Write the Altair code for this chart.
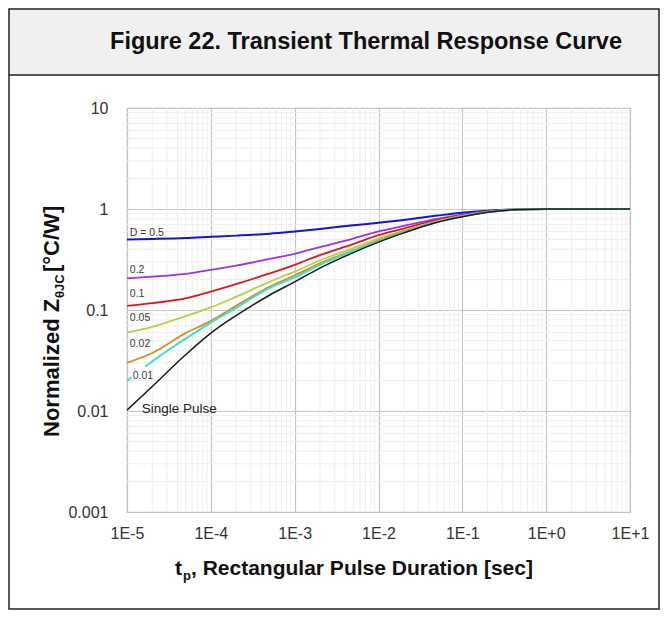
import altair as alt
import pandas as pd

# ---------------- data ----------------
T = [1e-5, 2e-5, 5e-5, 1e-4, 2e-4, 5e-4, 1e-3, 2e-3, 5e-3, 1e-2, 2e-2, 5e-2, 1e-1, 2e-1, 5e-1, 1.0, 10.0]

z_d05 = [0.50, 0.505, 0.515, 0.53, 0.545, 0.57, 0.60, 0.635, 0.69, 0.73, 0.78, 0.86, 0.92, 0.96, 0.995, 1.0, 1.0]
z_d02 = [0.206, 0.214, 0.228, 0.249, 0.275, 0.32, 0.36, 0.42, 0.51, 0.60, 0.68, 0.80, 0.88, 0.945, 0.99, 1.0, 1.0]
z_d01 = [0.11, 0.117, 0.13, 0.152, 0.18, 0.23, 0.28, 0.35, 0.45, 0.55, 0.64, 0.78, 0.865, 0.94, 0.99, 1.0, 1.0]
z_d005 = [0.0596, 0.068, 0.087, 0.106, 0.135, 0.19, 0.24, 0.31, 0.41, 0.51, 0.61, 0.76, 0.855, 0.935, 0.99, 1.0, 1.0]
z_d002 = [0.030, 0.0375, 0.059, 0.078, 0.11, 0.17, 0.22, 0.29, 0.39, 0.49, 0.60, 0.75, 0.85, 0.93, 0.99, 1.0, 1.0]
z_single = [0.0102, 0.0175, 0.036, 0.059, 0.088, 0.14, 0.19, 0.26, 0.37, 0.47, 0.58, 0.74, 0.84, 0.93, 0.99, 1.0, 1.0]

# D = 0.01 curve is interrupted by its label
t_d001_head = [1e-5, 1.13e-5]
z_d001_head = [0.020, 0.0215]
t_d001 = [1.64e-5, 2e-5, 5e-5, 1e-4, 2e-4, 5e-4, 1e-3, 2e-3, 5e-3, 1e-2, 2e-2, 5e-2, 1e-1, 2e-1, 5e-1, 1.0, 10.0]
z_d001 = [0.0275, 0.031, 0.052, 0.075, 0.105, 0.165, 0.21, 0.28, 0.385, 0.48, 0.59, 0.745, 0.845, 0.93, 0.99, 1.0, 1.0]

series_colors = {
    "D = 0.5": "#1414d6",
    "0.2": "#a030e8",
    "0.1": "#e01616",
    "0.05": "#b8d048",
    "0.02": "#dc8a20",
    "0.01": "#3fe0d0",
    "Single Pulse": "#1a1a1a",
}

label_text = ["D = 0.5", "0.2", "0.1", "0.05", "0.02", "0.01"]
label_t = [1.08e-5, 1.08e-5, 1.08e-5, 1.08e-5, 1.08e-5, 1.17e-5]
label_z = [0.54, 0.232, 0.135, 0.078, 0.043, 0.0207]
single_label_t = [1.5e-5]
single_label_z = [0.0095]

x_ticks = [1e-5, 1e-4, 1e-3, 1e-2, 1e-1, 1.0, 10.0]
x_tick_labels = ["1E-5", "1E-4", "1E-3", "1E-2", "1E-1", "1E+0", "1E+1"]
y_ticks = [0.001, 0.01, 0.1, 1.0, 10.0]
y_tick_labels = ["0.001", "0.01", "0.1", "1", "10"]

x_minor = [k * d for d in [1e-5, 1e-4, 1e-3, 1e-2, 1e-1, 1.0] for k in range(2, 10)]
y_minor = [k * d for d in [1e-3, 1e-2, 1e-1, 1.0] for k in range(2, 10)]

# ---------------- chart ----------------
W, H = 503, 404
FONT = "Liberation Sans"

def expr_map(vals, labels):
    v = "[" + ",".join(repr(float(a)) for a in vals) + "]"
    l = "[" + ",".join("'" + s + "'" for s in labels) + "]"
    return f"{l}[indexof({v}, datum.value)]"

xscale = alt.Scale(type="log", domain=[1e-5, 10])
yscale = alt.Scale(type="log", domain=[0.001, 10])

x_axis = alt.Axis(values=x_ticks, labelExpr=expr_map(x_ticks, x_tick_labels), grid=True,
                  gridColor="#c4c4c4", gridWidth=1.2, domain=False, ticks=False, tickSize=0,
                  labelPadding=13, labelFont=FONT, labelFontSize=16, labelColor="#333333",
                  title=None, labelFlush=False, labelOverlap=False)
y_axis = alt.Axis(values=y_ticks, labelExpr=expr_map(y_ticks, y_tick_labels), grid=True,
                  gridColor="#c4c4c4", gridWidth=1.2, domain=False, ticks=False, tickSize=0,
                  labelPadding=19, labelFont=FONT, labelFontSize=16, labelColor="#333333",
                  title=None, labelFlush=False, labelOverlap=False)

X = alt.X("t:Q", scale=xscale, axis=x_axis)
Y = alt.Y("z:Q", scale=yscale, axis=y_axis)

dummy = pd.DataFrame({"a": [0]})

# decorations: title band, frame
band = alt.Chart(dummy).mark_rect(fill="#f0f0f0").encode(
    x=alt.value(-118), x2=alt.value(532), y=alt.value(-99), y2=alt.value(-33))
band_line = alt.Chart(dummy).mark_rule(color="#555555", strokeWidth=2).encode(
    x=alt.value(-118), x2=alt.value(532), y=alt.value(-33))
frame = alt.Chart(dummy).mark_rect(fill=None, stroke="#222222", strokeWidth=1.5).encode(
    x=alt.value(-118), x2=alt.value(532), y=alt.value(-99), y2=alt.value(501))
title = alt.Chart(dummy).mark_text(text="Figure 22. Transient Thermal Response Curve", font=FONT,
                                   fontSize=23.5, fontWeight="bold", align="center",
                                   baseline="alphabetic", color="#111111").encode(
    x=alt.value(239), y=alt.value(-59))

# minor grid
minor_x = alt.Chart(pd.DataFrame({"t": x_minor})).mark_rule(color="#eeeeee", strokeWidth=1).encode(x=X)
minor_y = alt.Chart(pd.DataFrame({"z": y_minor})).mark_rule(color="#eeeeee", strokeWidth=1).encode(y=Y)

def curve(ts, zs, color, width=1.8):
    df = pd.DataFrame({"t": ts, "z": zs})
    return alt.Chart(df).mark_line(color=color, strokeWidth=width, interpolate="monotone").encode(x=X, y=Y)

curves = [
    curve(T, z_d05, series_colors["D = 0.5"], width=2.0),
    curve(T, z_d02, series_colors["0.2"]),
    curve(T, z_d01, series_colors["0.1"]),
    curve(T, z_d005, series_colors["0.05"]),
    curve(T, z_d002, series_colors["0.02"]),
    curve(t_d001_head, z_d001_head, series_colors["0.01"], width=2.0),
    curve(t_d001, z_d001, series_colors["0.01"], width=2.0),
    curve(T, z_single, series_colors["Single Pulse"], width=1.5),
]

labels = alt.Chart(pd.DataFrame({"t": label_t, "z": label_z, "txt": label_text})).mark_text(
    align="left", baseline="alphabetic", font=FONT, fontSize=10.5, color="#3a3a3a").encode(
    x=X, y=Y, text="txt:N")
single_label = alt.Chart(pd.DataFrame({"t": single_label_t, "z": single_label_z})).mark_text(
    text="Single Pulse", align="left", baseline="alphabetic", font=FONT, fontSize=13.5,
    color="#222222").encode(x=X, y=Y)

# axis titles (with subscripts)
def txt(s, x, y, size, angle=0):
    props = dict(text=s, font=FONT, fontSize=size, fontWeight="bold", align="left",
                 baseline="alphabetic", color="#111111")
    if angle:
        props["angle"] = angle
    return alt.Chart(dummy).mark_text(**props).encode(x=alt.value(x), y=alt.value(y))

xt1 = txt("t", 48, 467, 21)
xt2 = txt("p", 56, 472, 13)
xt3 = txt(", Rectangular Pulse Duration [sec]", 64, 467, 21)

yt1 = txt("Normalized Z", -68, 329, 22, angle=270)
yt2 = txt("θJC", -63, 190, 13, angle=270)
yt3 = txt("[°C/W]", -68, 164, 22, angle=270)

chart = alt.layer(
    band, band_line, frame, title,
    minor_x, minor_y,
    *curves,
    labels, single_label,
    xt1, xt2, xt3, yt1, yt2, yt3,
).properties(
    width=W, height=H,
    autosize=alt.AutoSizeParams(type="none"),
    padding={"left": 119, "top": 100, "right": 30, "bottom": 98},
    background="white",
).configure_view(stroke="#c4c4c4", strokeWidth=1.2)

chart.save("out.html", embed_options={"renderer": "svg", "actions": False})
